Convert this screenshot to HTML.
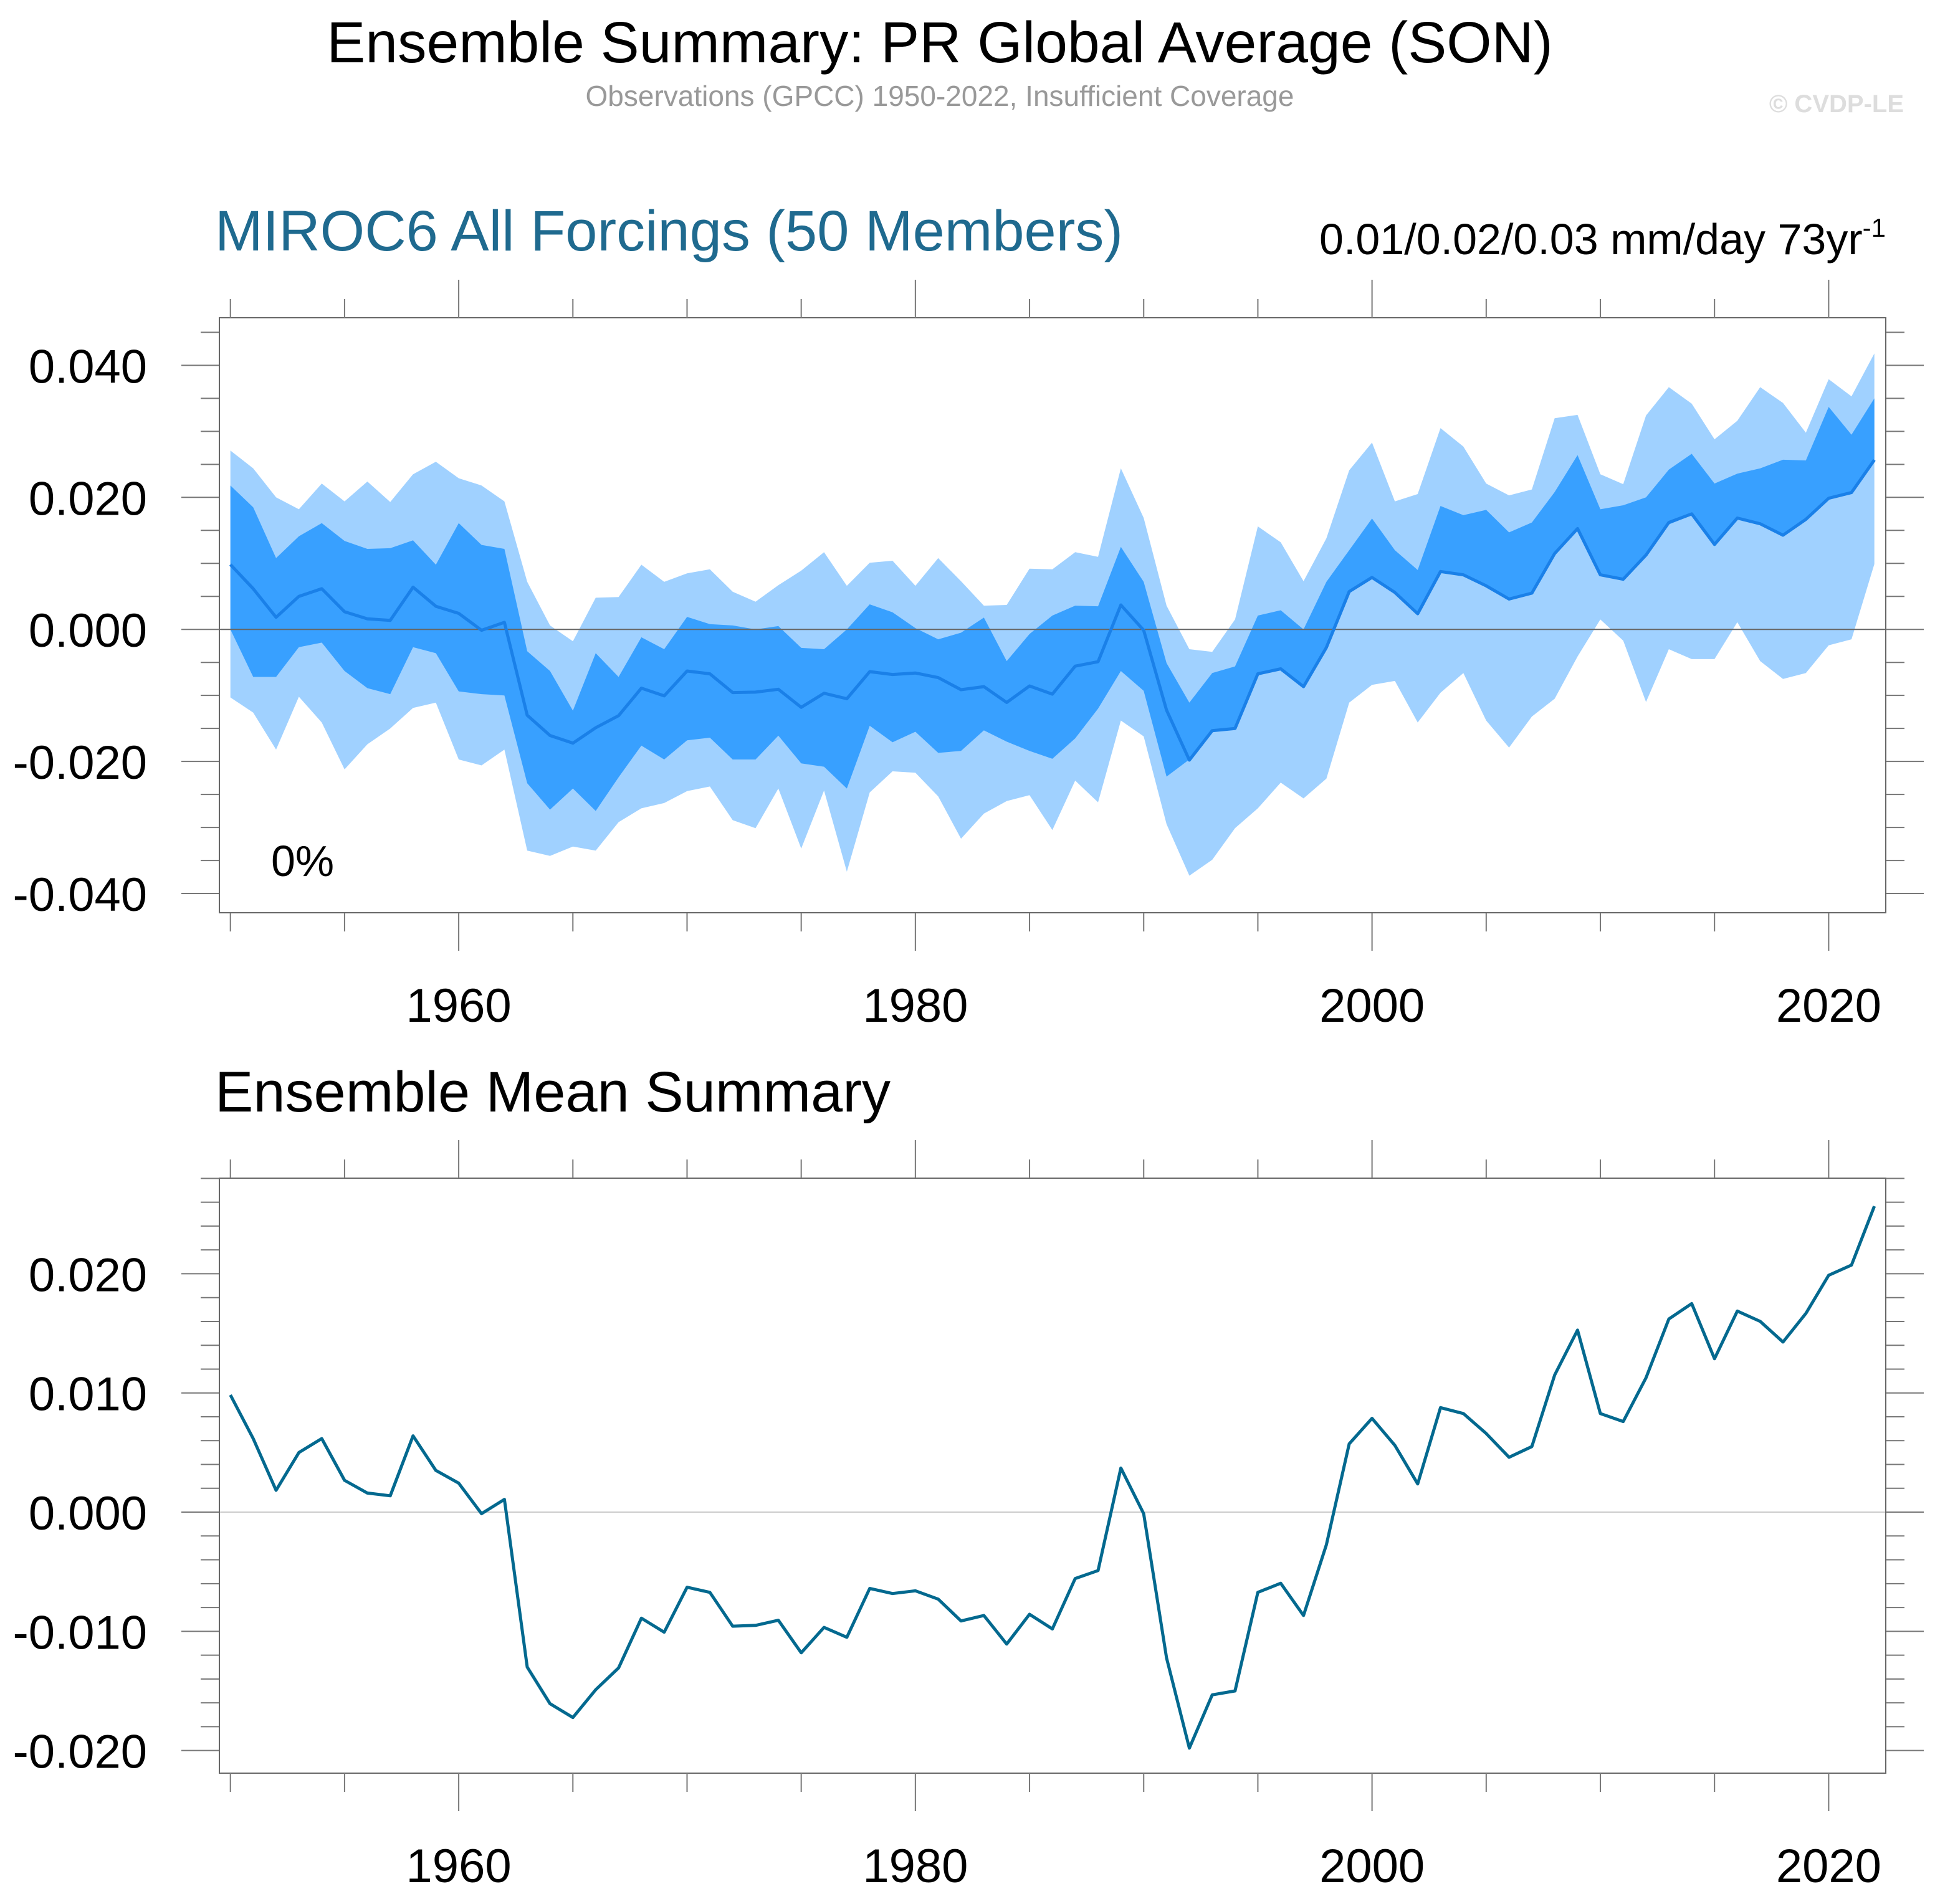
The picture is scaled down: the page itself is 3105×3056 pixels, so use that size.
<!DOCTYPE html>
<html><head><meta charset="utf-8"><title>Ensemble Summary</title>
<style>html,body{margin:0;padding:0;background:#fff}svg{display:block}text{font-family:"Liberation Sans",sans-serif}</style>
</head><body>
<svg id="chart" xmlns="http://www.w3.org/2000/svg" width="3105" height="3056" viewBox="0 0 3105 3056">
<text x="1508" y="100" font-size="93" text-anchor="middle" fill="#000">Ensemble Summary: PR Global Average (SON)</text>
<text x="1508" y="170" font-size="46" text-anchor="middle" fill="#999">Observations (GPCC) 1950-2022, Insufficient Coverage</text>
<text x="3055" y="180" font-size="40" font-weight="bold" text-anchor="end" fill="#ddd">© CVDP-LE</text>
<text x="345" y="402" font-size="92" fill="#1f6a8f">MIROC6 All Forcings (50 Members)</text>
<text x="3026" y="408" font-size="70" text-anchor="end" fill="#000">0.01/0.02/0.03 mm/day 73yr<tspan dy="-28" font-size="42">-1</tspan></text>
<text x="435" y="1406" font-size="70" fill="#000">0%</text>
<text x="345" y="1784" font-size="92" fill="#000">Ensemble Mean Summary</text>
<g id="top"></g><g id="bot"></g>
</svg>
<script>
const years = Array.from({length:73},(_,i)=>1950+i);
// values in units of 0.001 mm/day
const meanVals = [9.83,6.17,1.83,5.0,6.17,2.67,1.6,1.37,6.4,3.5,2.43,-0.13,1.07,-13.0,-16.07,-17.23,-14.9,-13.07,-8.9,-10.07,-6.3,-6.73,-9.57,-9.5,-9.07,-11.8,-9.67,-10.5,-6.4,-6.83,-6.6,-7.3,-9.13,-8.67,-11.07,-8.57,-9.8,-5.57,-4.9,3.7,-0.13,-12.23,-19.8,-15.33,-15.0,-6.73,-5.97,-8.67,-2.73,5.73,7.87,5.6,2.37,8.77,8.27,6.6,4.6,5.5,11.5,15.27,8.27,7.6,11.27,16.2,17.5,12.87,16.87,16.0,14.27,16.67,19.87,20.73,25.67];
const lightUpper = [27.1,24.4,20.0,18.2,22.1,19.4,22.4,19.3,23.5,25.4,22.9,21.8,19.4,7.2,0.6,-1.8,4.8,4.9,9.8,7.2,8.5,9.1,5.7,4.2,6.7,8.9,11.7,6.6,10.1,10.4,6.6,10.8,7.3,3.6,3.7,9.2,9.1,11.7,11.0,24.4,16.9,3.6,-3.0,-3.4,1.5,15.6,13.2,7.3,13.8,24.1,28.3,19.4,20.5,30.5,27.7,22.1,20.3,21.2,32.0,32.5,23.5,22.0,32.4,36.7,34.2,28.8,31.6,36.7,34.3,29.8,37.9,35.3,41.8];
const darkUpper = [21.8,18.5,10.8,14.1,16.1,13.4,12.2,12.3,13.5,9.8,16.1,12.8,12.2,-3.3,-6.3,-12.3,-3.6,-7.2,-1.2,-3.0,1.9,0.8,0.6,0.0,0.5,-2.8,-3.0,0.0,3.8,2.6,0.2,-1.5,-0.5,1.8,-4.8,-0.7,2.1,3.6,3.5,12.5,7.2,-5.1,-11.1,-6.6,-5.6,2.1,2.9,0.0,7.2,12.0,16.8,12.0,9.0,18.7,17.3,18.1,14.7,16.2,20.8,26.4,18.2,18.8,20.0,24.2,26.6,22.1,23.6,24.4,25.7,25.6,33.7,29.5,35.0];
const darkLower = [0.0,-7.2,-7.2,-2.7,-2.0,-6.3,-8.9,-9.8,-2.7,-3.6,-9.4,-9.8,-10.0,-23.3,-27.3,-24.1,-27.5,-22.4,-17.6,-19.7,-16.8,-16.4,-19.7,-19.7,-16.1,-20.3,-20.8,-24.1,-14.6,-17.1,-15.5,-18.7,-18.4,-15.3,-17.0,-18.4,-19.6,-16.5,-12.0,-6.3,-9.3,-22.3,-19.7,-15.2,-14.9,-6.7,-5.9,-8.5,-3.0,5.7,7.8,5.7,2.4,8.7,8.2,6.6,4.6,5.4,11.7,15.2,8.3,7.5,11.3,15.9,17.3,12.8,16.8,16.1,14.3,16.8,19.9,20.8,25.6];
const lightLower = [-10.3,-12.6,-18.2,-10.2,-14.1,-21.2,-17.4,-15.0,-11.9,-11.1,-19.7,-20.6,-18.2,-33.5,-34.3,-32.9,-33.5,-29.2,-27.1,-26.3,-24.5,-23.8,-28.9,-30.1,-24.1,-33.2,-24.4,-36.7,-24.7,-21.5,-21.7,-25.3,-31.7,-27.9,-26.0,-25.1,-30.4,-22.9,-26.2,-13.8,-16.2,-29.5,-37.3,-34.9,-30.1,-27.1,-23.2,-25.6,-22.6,-11.1,-8.4,-7.8,-14.1,-9.6,-6.6,-13.8,-17.9,-13.2,-10.5,-4.1,1.5,-1.7,-11.0,-3.0,-4.5,-4.5,1.1,-4.8,-7.5,-6.6,-2.4,-1.5,9.9];
const topTicks = [-0.04,-0.02,0,0.02,0.04];
const topTickLabels = ["-0.040","-0.020","0.000","0.020","0.040"];
const botTicks = [-0.02,-0.01,0,0.01,0.02];
const botTickLabels = ["-0.020","-0.010","0.000","0.010","0.020"];
const xTicks = [1960,1980,2000,2020];

const NS="http://www.w3.org/2000/svg";
function mk(parent,tag,attrs){const e=document.createElementNS(NS,tag);for(const k in attrs)e.setAttribute(k,attrs[k]);parent.appendChild(e);return e;}

function panel(g,cfg){
  const L=352,R=3026,T=cfg.T,B=cfg.B;
  const x0=1949.517,x1=2022.5;
  const X=y=>L+(y-x0)/(x1-x0)*(R-L);
  const Y=v=>T+(cfg.ymax-v)/(cfg.ymax-cfg.ymin)*(B-T);
  const P=(arr)=>arr.map((v,i)=>X(years[i]).toFixed(1)+','+Y(v/1000).toFixed(1));
  if(cfg.bands){
    const pl=mk(g,'polygon',{points:P(lightUpper).concat(P(lightLower).reverse()).join(' '),fill:'#a0d1ff'});
    
    
    const pd=mk(g,'polygon',{points:P(darkUpper).concat(P(darkLower).reverse()).join(' '),fill:'#38a0ff'});
    
    
  }
  const z=mk(g,'line',{x1:L,x2:R,y1:Y(0),y2:Y(0),stroke:cfg.zeroColor,'stroke-width':2});
  
  
  const ln=mk(g,'polyline',{points:P(meanVals).join(' '),fill:'none',stroke:cfg.lineColor,'stroke-width':5,'stroke-linejoin':'round'});
  
  
  const fr=mk(g,'rect',{x:L,y:T,width:R-L,height:B-T,fill:'none',stroke:'#666','stroke-width':2});
  
  
  for(let yr=1950;yr<=2020;yr+=5){
    const maj=yr%20===0, x=X(yr), len=maj?61:30;
    mk(g,'line',{x1:x,x2:x,y1:T,y2:T-len,stroke:'#777','stroke-width':2});
    mk(g,'line',{x1:x,x2:x,y1:B,y2:B+len,stroke:'#777','stroke-width':2});
  }
  xTicks.forEach(yr=>{
    const t=mk(g,'text',{x:X(yr),y:B+175,'font-size':76,'text-anchor':'middle'});
    t.textContent=yr;
    
    
  });
  const n=Math.round((cfg.ymax-cfg.ymin)/cfg.minor)+2;
  for(let k=-n;k<=n;k++){
    const v=k*cfg.minor; if(v<cfg.ymin||v>cfg.ymax) continue;
    const y=Y(v);
    const maj=cfg.ticks.some(t=>Math.abs(t-v)<1e-9);
    const len=maj?61:30;
    mk(g,'line',{x1:L,x2:L-len,y1:y,y2:y,stroke:'#777','stroke-width':2});
    mk(g,'line',{x1:R,x2:R+len,y1:y,y2:y,stroke:'#777','stroke-width':2});
  }
  cfg.ticks.forEach((v,i)=>{
    const t=mk(g,'text',{x:236,y:Y(v)+28,'font-size':76,'text-anchor':'end'});
    t.textContent=cfg.labels[i];
    
    
  });
}
const gt=document.getElementById('top');


panel(gt,{T:510,B:1465,ymax:0.04721,ymin:-0.04292,bands:true,zeroColor:'#666',lineColor:'#1a80e8',ticks:topTicks,labels:topTickLabels,minor:0.005});
const gb=document.getElementById('bot');


panel(gb,{T:1891,B:2846,ymax:0.02802,ymin:-0.0219,bands:false,zeroColor:'#ccc',lineColor:'#03698f',ticks:botTicks,labels:botTickLabels,minor:0.002});
</script>
</body></html>
